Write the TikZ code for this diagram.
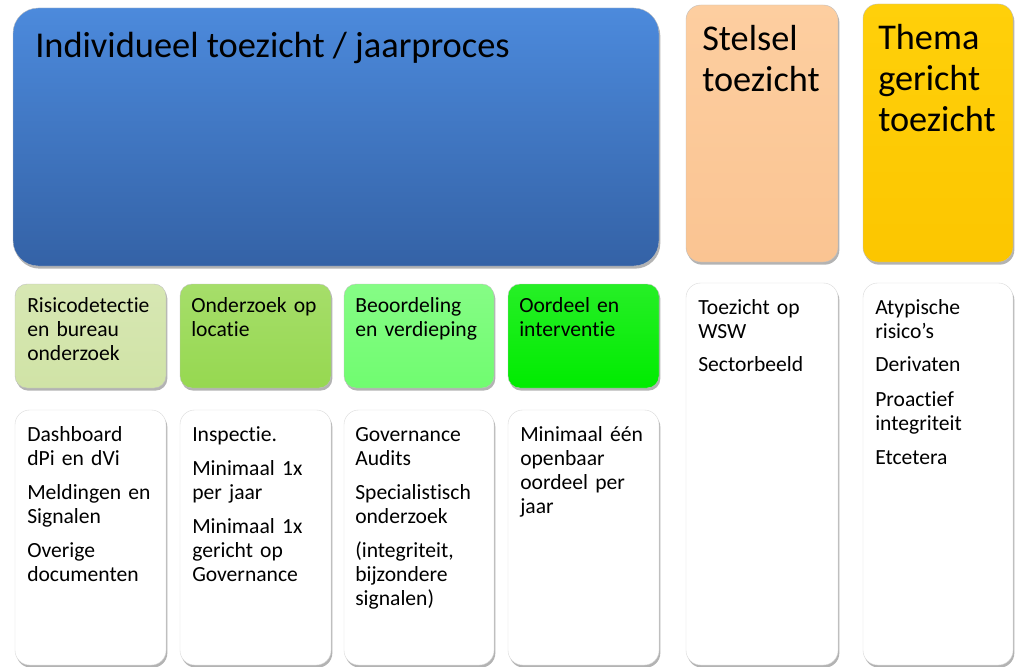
\documentclass[tikz,border=0pt]{standalone}
\usepackage{fontspec}
\setmainfont{Carlito}[Ligatures=NoCommon]
\usetikzlibrary{shadows}
\definecolor{blueT}{RGB}{76,138,220}
\definecolor{blueB}{RGB}{52,98,166}
\definecolor{peachT}{RGB}{253,206,160}
\definecolor{peachB}{RGB}{250,196,146}
\definecolor{yelT}{RGB}{255,208,10}
\definecolor{yelB}{RGB}{252,198,0}
\definecolor{gA}{RGB}{208,227,166}
\definecolor{gB}{RGB}{150,216,80}
\definecolor{gC}{RGB}{112,252,112}
\definecolor{gD}{RGB}{0,236,0}
\begin{document}
\begin{tikzpicture}[x=0.75pt,y=-0.75pt,
  shad/.style={drop shadow={opacity=0.4, shadow xshift=1pt, shadow yshift=-2pt, fill=black!75}},
  bigbox/.style={shad, rounded corners=19pt, draw=black!25, line width=0.3pt},
  tallbox/.style={shad, rounded corners=11pt, draw=black!25, line width=0.3pt},
  hdrbox/.style={shad, rounded corners=9pt, draw=black!25, line width=0.3pt},
  whitebox/.style={shad, rounded corners=11pt, fill=white, draw=black!15, line width=0.3pt},
  txt/.style={inner sep=0pt, text width=110pt, align=left, font=\fontsize{16.2}{18}\selectfont},
  bigtxt/.style={inner sep=0pt, text width=110pt, align=left, font=\fontsize{27.2}{30.75}\selectfont},
  titletxt/.style={inner sep=0pt, anchor=base west, font=\fontsize{27.3}{30}\selectfont}
]
\useasboundingbox (0,0) rectangle (1015,667);
% top row
\path[bigbox, top color=blueT, bottom color=blueB] (13,8) rectangle (659,266);
\path[tallbox, top color=peachT, bottom color=peachB] (686,5) rectangle (838,262);
\path[tallbox, top color=yelT, bottom color=yelB] (863,4) rectangle (1013,262);
\node[titletxt] (title) at (35,58) {Individueel toezicht / jaarproces};
\node[bigtxt, anchor=base west] (stelsel) at (702,51) {Stelsel\\toezicht};
\node[bigtxt, anchor=base west] (thema) at (878,50) {Thema\\gericht\\toezicht};
% second row headers
\path[hdrbox, top color=gA!85!white, bottom color=gA] (15,284) rectangle (166,388);
\path[hdrbox, top color=gB!85!white, bottom color=gB] (180,284) rectangle (331,388);
\path[hdrbox, top color=gC!85!white, bottom color=gC] (344,284) rectangle (494,388);
\path[hdrbox, top color=gD!85!white, bottom color=gD] (508,284) rectangle (659,388);
\node[txt, anchor=base west] (h1) at (27,312) {Risicodetectie\\en bureau\\onderzoek};
\node[txt, anchor=base west] (h2) at (191,312) {Onderzoek op\\locatie};
\node[txt, anchor=base west] (h3) at (355,312) {Beoordeling\\en verdieping};
\node[txt, anchor=base west] (h4) at (519,312) {Oordeel en\\interventie};
% white boxes
\path[whitebox] (15,410) rectangle (166,665);
\path[whitebox] (180,410) rectangle (331,665);
\path[whitebox] (344,410) rectangle (494,665);
\path[whitebox] (508,410) rectangle (659,665);
\path[whitebox] (686,283) rectangle (838,665);
\path[whitebox] (863,283) rectangle (1013,665);
\node[txt, anchor=base west] (w1) at (27,441) {Dashboard\\dPi en dVi\\[7.5pt]Meldingen en\\Signalen\\[7.5pt]Overige\\documenten};
\node[txt, anchor=base west] (w2) at (192,441) {Inspectie.\\[7.5pt]Minimaal 1x\\per jaar\\[7.5pt]Minimaal 1x\\gericht op\\Governance};
\node[txt, anchor=base west] (w3) at (355,441) {Governance\\Audits\\[7.5pt]Specialistisch\\onderzoek\\[7.5pt](integriteit,\\bijzondere\\signalen)};
\node[txt, anchor=base west] (w4) at (520,441) {Minimaal één\\openbaar\\oordeel per\\jaar};
\node[txt, anchor=base west] (w5) at (698,314) {Toezicht op\\WSW\\[7.5pt]Sectorbeeld};
\node[txt, anchor=base west] (w6) at (875,314) {Atypische\\risico’s\\[7.5pt]Derivaten\\[7.5pt]Proactief\\integriteit\\[7.5pt]Etcetera};
\end{tikzpicture}
\end{document}
